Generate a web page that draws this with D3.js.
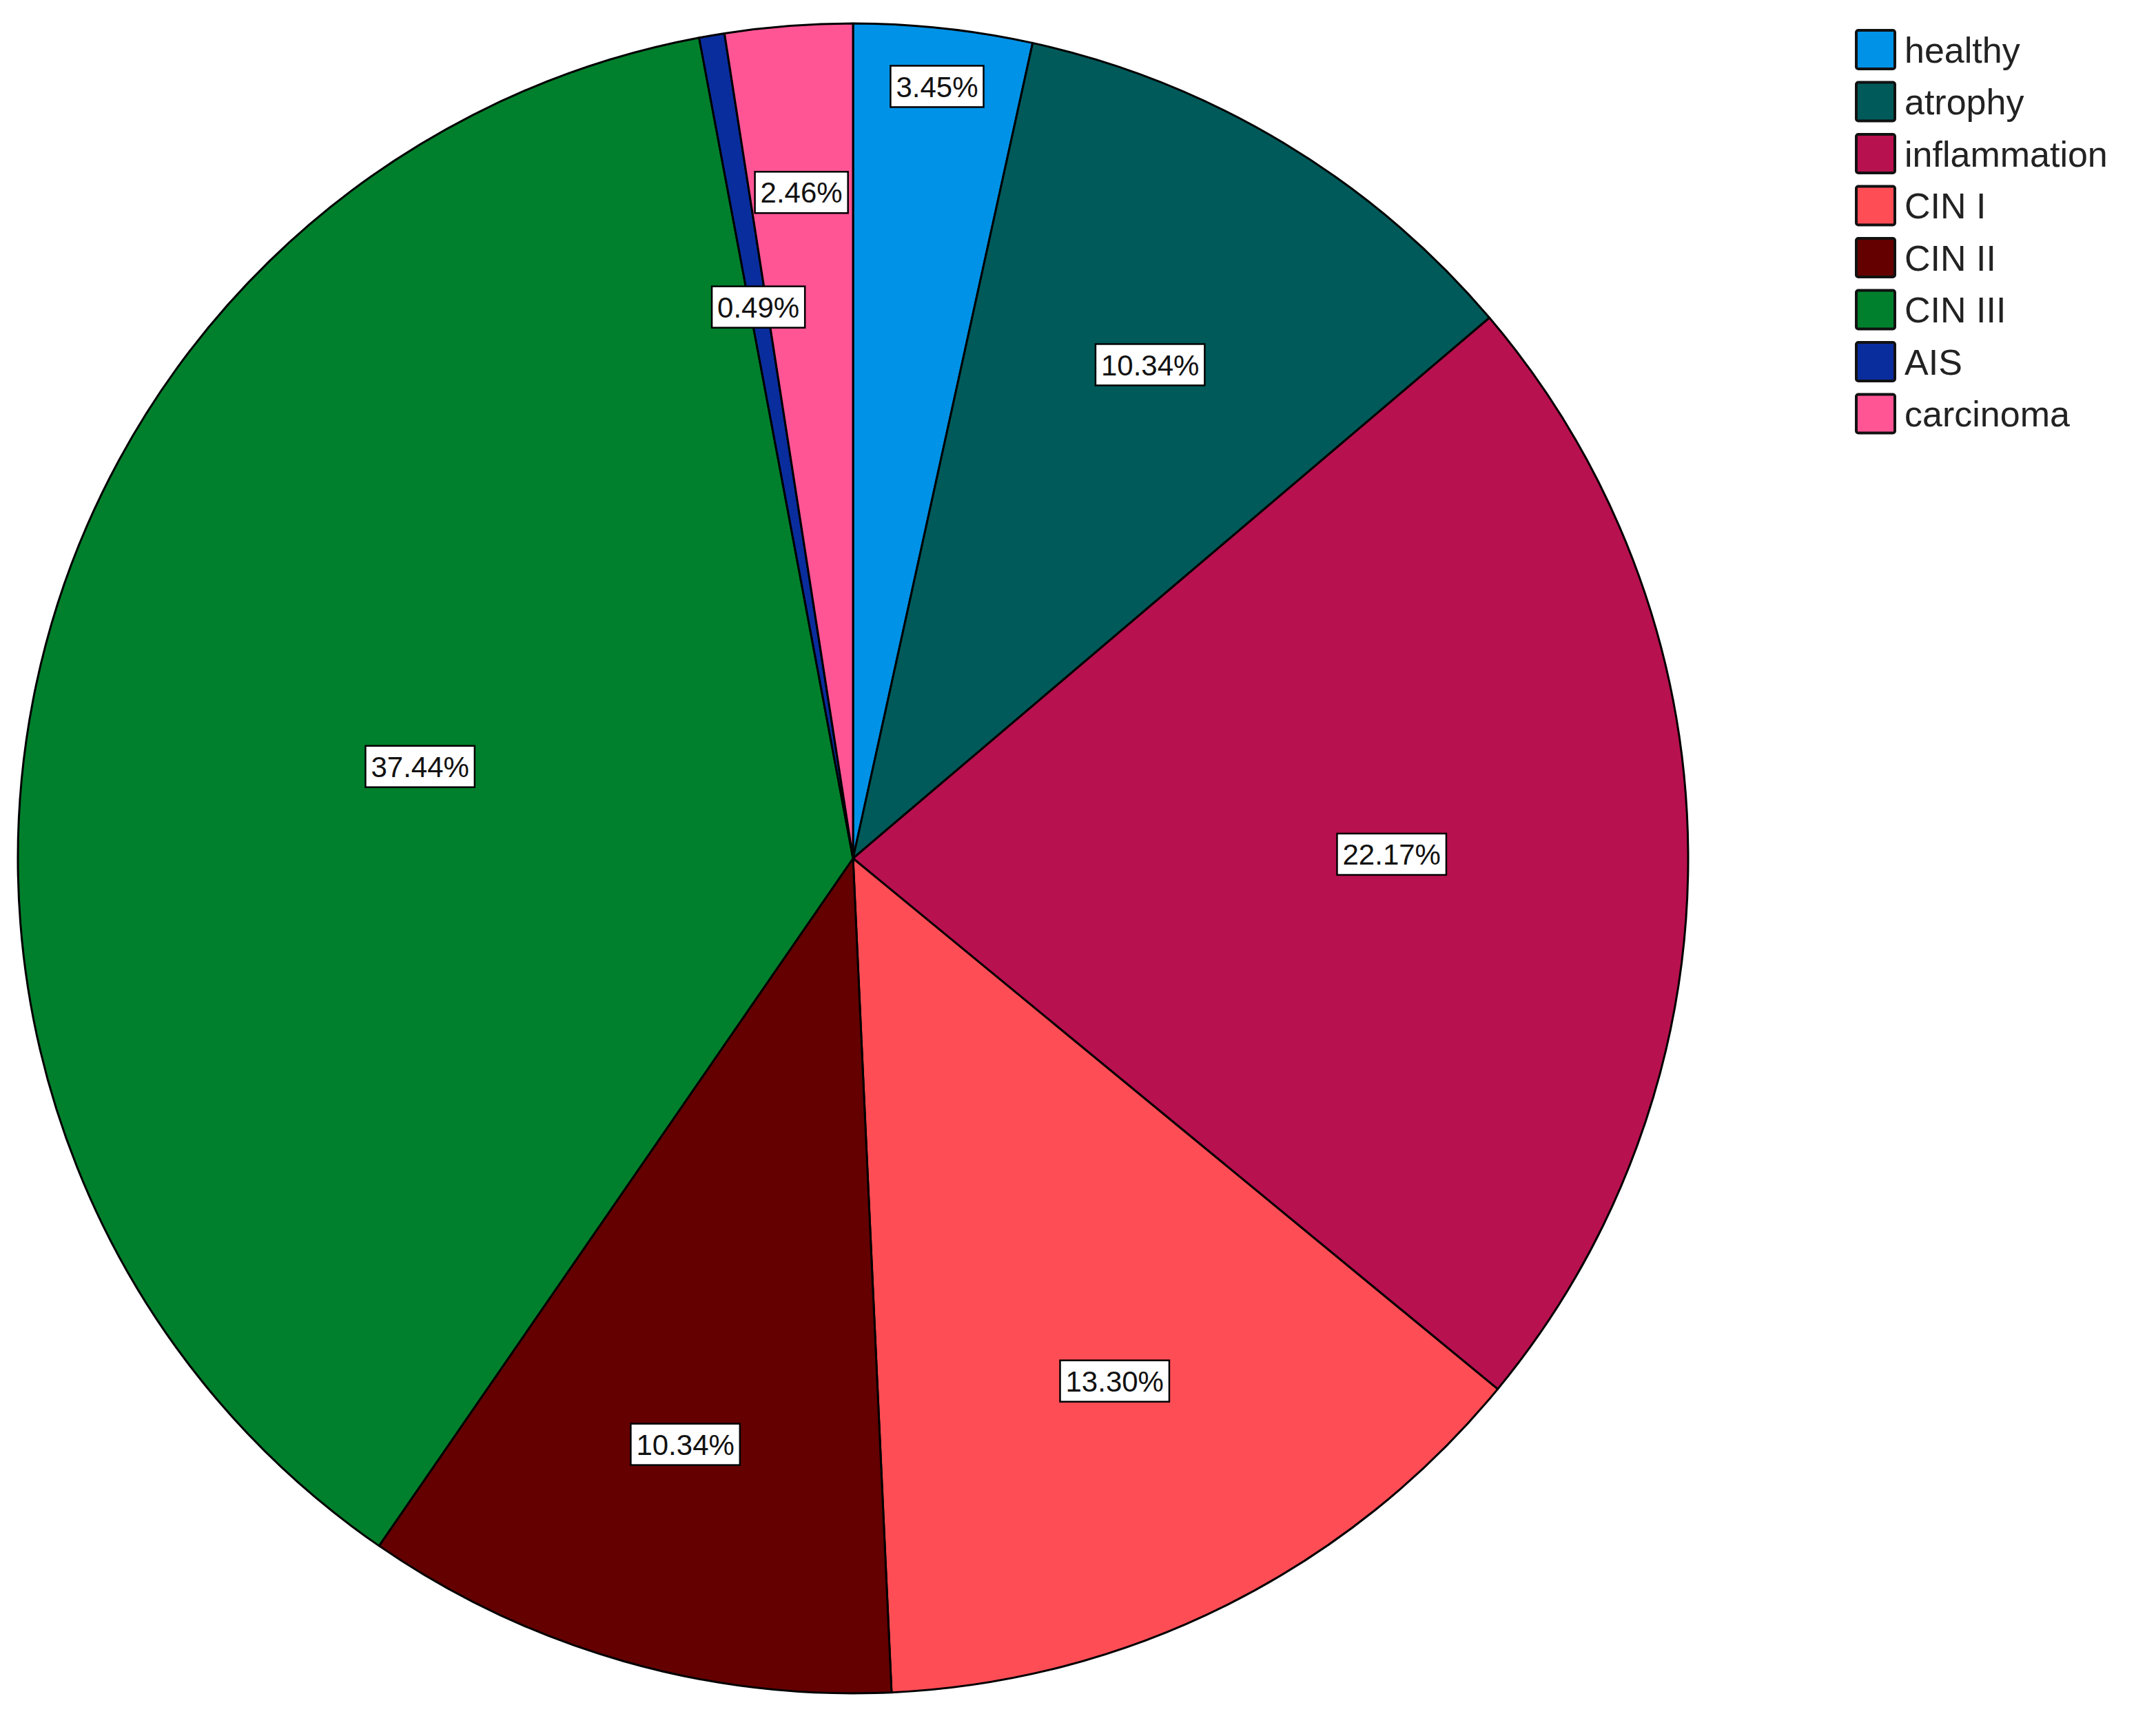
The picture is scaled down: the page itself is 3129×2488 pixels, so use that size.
<!DOCTYPE html>
<html>
<head>
<meta charset="utf-8">
<script src="https://cdn.jsdelivr.net/npm/d3@7"></script>
<style>
	body { margin: 0; background: #fff; }
	text { font-family: "Liberation Sans", Arial, sans-serif; }
</style>
</head>
<body>
<div id="chart"></div>
<script>
	const categories = ['healthy', 'atrophy', 'inflammation', 'CIN I', 'CIN II', 'CIN III', 'AIS', 'carcinoma'];
	const percents   = [3.45, 10.34, 22.17, 13.30, 10.34, 37.44, 0.49, 2.46];
	const colors     = ['#0092e6', '#005a5a', '#b8114f', '#ff4d55', '#640000', '#00802c', '#0a2d9e', '#ff5595'];

	const width = 3129;
	const height = 2488;
	const cx = 1238, cy = 1246, radius = 1212;
	// label distance from centre as a fraction of radius (as placed in the original)
	const labelR = [0.93, 0.69, 0.645, 0.70, 0.73, 0.53, 0.67, 0.80];

	const svg = d3.select('#chart')
		.append('svg')
		.attr('width', width)
		.attr('height', height);

	const pie = d3.pie().sort(null).value(d => d.value);
	const arcs = pie(categories.map((c, i) => ({ name: c, value: percents[i], i })));
	const arc = d3.arc().innerRadius(0).outerRadius(radius);

	const g = svg.append('g').attr('transform', `translate(${cx}, ${cy})`);

	g.selectAll('path')
		.data(arcs)
		.enter()
		.append('path')
		.attr('d', arc)
		.style('fill', d => colors[d.data.i])
		.style('stroke', '#000')
		.style('stroke-width', 3)
		.style('stroke-linejoin', 'round');

	const labels = g.selectAll('g.lab')
		.data(arcs)
		.enter()
		.append('g')
		.attr('class', 'lab')
		.attr('transform', d => {
			const a = (d.startAngle + d.endAngle) / 2;
			const r = radius * labelR[d.data.i];
			return `translate(${r * Math.sin(a)}, ${-r * Math.cos(a)})`;
		});

	labels.each(function(d) {
		const lg = d3.select(this);
		const t = lg.append('text')
			.attr('text-anchor', 'middle')
			.attr('dy', '0.36em')
			.style('font-size', '42px')
			.style('fill', '#111')
			.text(d.data.value.toFixed(2) + '%');
		const bb = t.node().getBBox();
		lg.insert('rect', 'text')
			.attr('x', bb.x - 8)
			.attr('y', -30)
			.attr('width', bb.width + 16)
			.attr('height', 60)
			.style('fill', '#fff')
			.style('stroke', '#000')
			.style('stroke-width', 2.5);
	});

	const legend = svg.append('g').attr('transform', 'translate(2694, 44)');
	const rowH = 75.5;

	const rows = legend.selectAll('g')
		.data(categories)
		.enter()
		.append('g')
		.attr('transform', (d, i) => `translate(0, ${i * rowH})`);

	rows.append('rect')
		.attr('x', 0)
		.attr('y', 0)
		.attr('width', 56)
		.attr('height', 56)
		.attr('rx', 3)
		.style('fill', (d, i) => colors[i])
		.style('stroke', '#111')
		.style('stroke-width', 4);

	rows.append('text')
		.attr('x', 70)
		.attr('y', 28)
		.attr('dy', '0.36em')
		.style('font-size', '52px')
		.style('fill', '#222')
		.text(d => d);
</script>
</body>
</html>
